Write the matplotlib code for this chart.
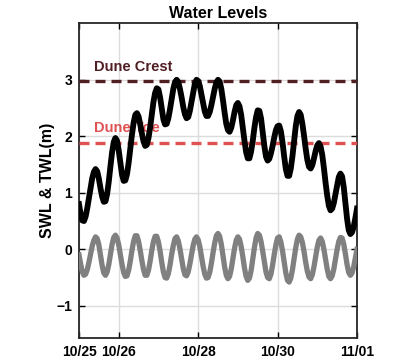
import numpy as np
import matplotlib
matplotlib.use("Agg")
import matplotlib.pyplot as plt

plt.rcParams['font.family'] = ['Liberation Sans', 'DejaVu Sans']
plt.rcParams['font.weight'] = 'bold'

# hourly readings starting 10/25 00:00
hours = np.arange(0, 169)

# total water level (m)
twl = [0.80, 0.62, 0.51, 0.50, 0.58, 0.73, 0.91, 1.10, 1.26, 1.37,
       1.42, 1.38, 1.25, 1.08, 0.93, 0.84, 0.85, 0.98, 1.20, 1.47,
       1.72, 1.90, 1.97, 1.92, 1.75, 1.53, 1.32, 1.21, 1.22, 1.33,
       1.53, 1.78, 2.03, 2.24, 2.38, 2.41, 2.35, 2.21, 2.05, 1.91,
       1.83, 1.85, 1.97, 2.16, 2.39, 2.61, 2.77, 2.85, 2.83, 2.69,
       2.49, 2.30, 2.21, 2.22, 2.32, 2.48, 2.66, 2.84, 2.96, 3.00,
       2.96, 2.84, 2.69, 2.52, 2.39, 2.32, 2.34, 2.45, 2.61, 2.78,
       2.93, 3.00, 2.98, 2.89, 2.74, 2.58, 2.44, 2.36, 2.36, 2.43,
       2.55, 2.70, 2.84, 2.95, 3.00, 2.97, 2.84, 2.64, 2.42, 2.22,
       2.11, 2.08, 2.15, 2.28, 2.43, 2.55, 2.59, 2.53, 2.38, 2.15,
       1.92, 1.72, 1.61, 1.61, 1.73, 1.92, 2.15, 2.34, 2.46, 2.45,
       2.32, 2.08, 1.83, 1.64, 1.57, 1.60, 1.70, 1.83, 1.98, 2.11,
       2.18, 2.19, 2.09, 1.89, 1.64, 1.42, 1.30, 1.30, 1.43, 1.65,
       1.92, 2.18, 2.36, 2.43, 2.38, 2.22, 2.01, 1.78, 1.58, 1.46,
       1.43, 1.49, 1.61, 1.74, 1.84, 1.88, 1.82, 1.67, 1.44, 1.18,
       0.95, 0.77, 0.69, 0.72, 0.82, 0.98, 1.13, 1.28, 1.34, 1.29,
       1.10, 0.82, 0.54, 0.34, 0.27, 0.30, 0.40, 0.55, 0.72]

# still water level (m)
swl = [-0.10, -0.26, -0.40, -0.46, -0.44, -0.36, -0.23, -0.08, 0.06, 0.16,
       0.22, 0.19, 0.08, -0.10, -0.29, -0.42, -0.46, -0.40, -0.27, -0.09,
       0.09, 0.21, 0.25, 0.20, 0.08, -0.09, -0.27, -0.41, -0.48, -0.47,
       -0.37, -0.21, -0.02, 0.14, 0.24, 0.24, 0.14, -0.02, -0.20, -0.36,
       -0.46, -0.46, -0.37, -0.21, -0.02, 0.14, 0.23, 0.23, 0.13, -0.03,
       -0.23, -0.40, -0.50, -0.51, -0.43, -0.28, -0.09, 0.07, 0.19, 0.22,
       0.15, 0.01, -0.17, -0.34, -0.45, -0.47, -0.40, -0.26, -0.09, 0.07,
       0.18, 0.22, 0.17, 0.05, -0.12, -0.30, -0.44, -0.51, -0.50, -0.41,
       -0.25, -0.06, 0.11, 0.24, 0.28, 0.23, 0.09, -0.11, -0.31, -0.46,
       -0.52, -0.48, -0.35, -0.17, 0.02, 0.16, 0.22, 0.18, 0.05, -0.13,
       -0.33, -0.48, -0.55, -0.51, -0.38, -0.18, 0.03, 0.20, 0.28, 0.25,
       0.14, -0.03, -0.22, -0.40, -0.50, -0.52, -0.44, -0.28, -0.09, 0.08,
       0.20, 0.22, 0.13, -0.03, -0.23, -0.42, -0.55, -0.58, -0.51, -0.36,
       -0.17, 0.03, 0.18, 0.25, 0.22, 0.12, -0.04, -0.23, -0.39, -0.49,
       -0.52, -0.45, -0.31, -0.13, 0.04, 0.16, 0.20, 0.14, 0.00, -0.18,
       -0.35, -0.48, -0.52, -0.47, -0.35, -0.18, 0.00, 0.14, 0.21, 0.20,
       0.09, -0.08, -0.27, -0.41, -0.46, -0.42, -0.31, -0.16, 0.00]

dune_crest = 2.98
dune_toe = 1.89

tick_days = [0, 1, 3, 5, 7]
tick_labels = ['10/25', '10/26', '10/28', '10/30', '11/01']

crest_color = '#4f1f24'
toe_color = '#e05252'

days = hours / 24.0

fig = plt.figure(figsize=(3.96, 3.64), dpi=100)
ax = fig.add_axes([0.1995, 0.0714, 0.702, 0.8646])

ax.plot(days, swl, color='#808080', lw=3.8, zorder=3)
ax.plot(days, twl, color='black', lw=4.2, zorder=4)

l1 = ax.axhline(dune_crest, color=crest_color, lw=2.4, zorder=3)
l1.set_dashes((3.0, 1.8))
l2 = ax.axhline(dune_toe, color=toe_color, lw=2.4, zorder=3)
l2.set_dashes((3.0, 1.8))

ax.text(0.38, dune_crest + 0.12, 'Dune Crest', color=crest_color,
        fontsize=10.5, fontweight='bold', va='bottom', zorder=2)
ax.text(0.38, dune_toe + 0.13, 'Dune Toe', color=toe_color,
        fontsize=10.5, fontweight='bold', va='bottom', zorder=2)

ax.set_xlim(0, 7)
ax.set_ylim(-1.57, 4.0)
ax.set_xticks(tick_days)
ax.set_xticklabels(tick_labels)
ax.set_yticks([-1, 0, 1, 2, 3])

ax.grid(True, color='#dcdcdc', lw=1.0, zorder=0)
ax.set_axisbelow(True)
ax.tick_params(direction='in', length=4, width=1.0, top=True, right=True,
               labelsize=10, pad=5)
for s in ax.spines.values():
    s.set_linewidth(1.3)
    s.set_color('#262626')

ax.set_title('Water Levels', fontsize=11.5, fontweight='bold', pad=4)
ax.set_ylabel('SWL & TWL(m)', fontsize=11.5, fontweight='bold', labelpad=1)

fig.savefig('out.png', dpi=100)
